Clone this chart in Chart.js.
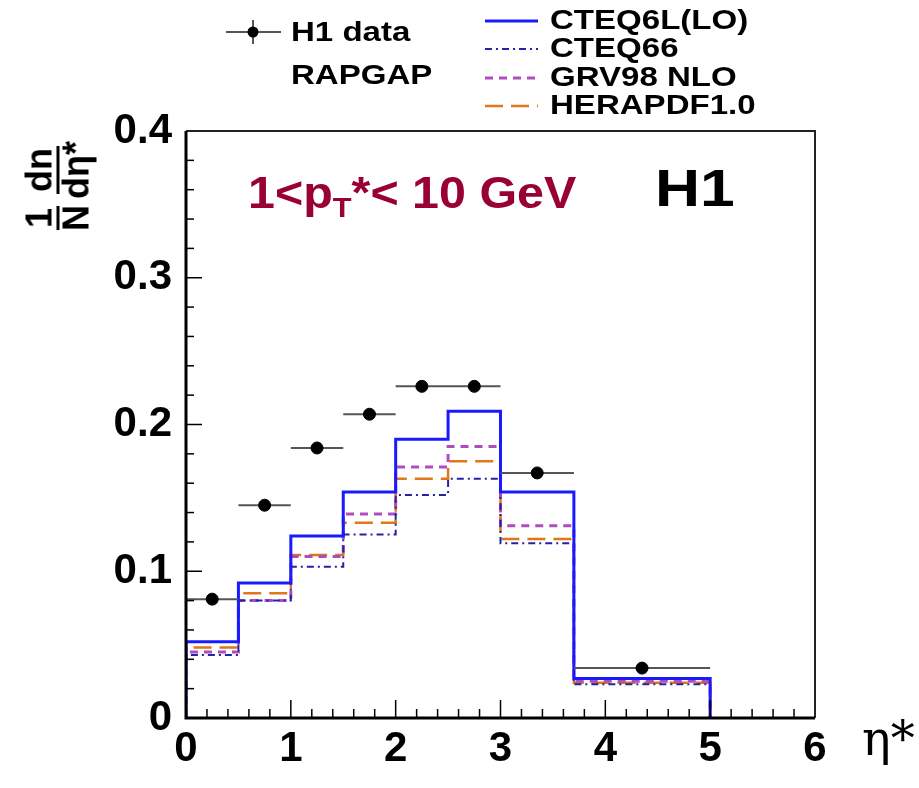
<!DOCTYPE html>
<html>
<head>
<meta charset="utf-8">
<script src="https://cdn.jsdelivr.net/npm/chart.js@4.4.1/dist/chart.umd.min.js"></script>
<style>
  html, body { margin: 0; padding: 0; background: #fff; }
  #wrap { position: relative; width: 919px; height: 788px; overflow: hidden; font-family: "Liberation Sans", Arial, sans-serif; }
  #chart { position: absolute; left: 0; top: 0; }
  .lbl { position: absolute; font-weight: bold; white-space: nowrap; color: #000; transform-origin: left center; }
  .leg { font-size: 28px; line-height: 28px; transform: scaleX(1.18); }
  #ytitle { position: absolute; left: 58px; top: 186px; transform: translate(-50%, -50%) rotate(-90deg);
            display: flex; align-items: center; font-weight: bold; font-size: 36px; }
  .frac { display: inline-flex; flex-direction: column; align-items: center; margin: 0 3px; line-height: 34px; }
  .frac .num { border-bottom: 3px solid #000; padding: 0 2px; }
  svg.sample { position: absolute; overflow: visible; }
</style>
</head>
<body>
<div id="wrap">
  <canvas id="chart" width="919" height="788"></canvas>

  <!-- legend -->
  <svg class="sample" style="left:0;top:0" width="919" height="130">
    <line x1="226" y1="32" x2="281" y2="32" stroke="#555" stroke-width="2"/>
    <line x1="253" y1="20" x2="253" y2="44" stroke="#555" stroke-width="2"/>
    <circle cx="253" cy="32" r="5.5" fill="#000"/>
    <line x1="485" y1="21" x2="538" y2="21" stroke="#1a1aff" stroke-width="3"/>
    <line x1="485" y1="49" x2="538" y2="49" stroke="#2323a8" stroke-width="2" stroke-dasharray="7,4,2,4"/>
    <line x1="485" y1="78" x2="538" y2="78" stroke="#b04cc0" stroke-width="3" stroke-dasharray="8,6"/>
    <line x1="485" y1="106" x2="538" y2="106" stroke="#e07818" stroke-width="2.5" stroke-dasharray="18,8"/>
  </svg>
  <div class="lbl leg" style="left:291px;top:18px">H1 data</div>
  <div class="lbl leg" style="left:291px;top:61px">RAPGAP</div>
  <div class="lbl leg" style="left:550px;top:6px">CTEQ6L(LO)</div>
  <div class="lbl leg" style="left:550px;top:34px">CTEQ66</div>
  <div class="lbl leg" style="left:550px;top:63px">GRV98 NLO</div>
  <div class="lbl leg" style="left:550px;top:91px">HERAPDF1.0</div>

  <!-- annotations -->
  <div class="lbl" style="left:248px;top:168px;font-size:44px;line-height:50px;color:#990033;transform:scaleX(1.1)">1&lt;p<sub style="font-size:28px;vertical-align:-9px">T</sub>*&lt; 10 GeV</div>
  <div class="lbl" style="left:655px;top:160px;font-size:52px;line-height:56px;transform:scaleX(1.2)">H1</div>

  <!-- axis titles -->
  <div id="ytitle">
    <span class="frac"><span class="num">1</span><span>N</span></span>
    <span class="frac"><span class="num">dn</span><span>dη*</span></span>
  </div>
  <div class="lbl" style="left:862px;top:712px;font-size:48px;line-height:52px;font-weight:normal;font-family:'DejaVu Serif',serif">η*</div>
</div>

<script>
// bin edges in eta*
const binEdges = [0, 0.5, 1, 1.5, 2, 2.5, 3, 3.7, 5];

// H1 data points (bin centres and values)
const h1Eta = [0.25, 0.75, 1.25, 1.75, 2.25, 2.75, 3.35, 4.35];
const h1Values = [0.081, 0.145, 0.184, 0.207, 0.226, 0.226, 0.167, 0.034];

// RAPGAP predictions, one value per bin
const cteq6l = [0.052, 0.092, 0.124, 0.154, 0.190, 0.209, 0.154, 0.027];
const cteq66 = [0.043, 0.080, 0.103, 0.125, 0.152, 0.163, 0.119, 0.023];
const grv98 = [0.045, 0.080, 0.110, 0.139, 0.171, 0.185, 0.131, 0.025];
const herapdf = [0.048, 0.085, 0.111, 0.133, 0.163, 0.175, 0.122, 0.024];

// axis ticks
const xTicks = [0, 1, 2, 3, 4, 5, 6];
const yTicks = [0, 0.1, 0.2, 0.3, 0.4];

// turn bin values into a stepped outline from 0 up and back down to 0
function histPoints(values) {
  const pts = [{ x: binEdges[0], y: 0 }];
  values.forEach((v, i) => pts.push({ x: binEdges[i], y: v }));
  const last = binEdges[binEdges.length - 1];
  pts.push({ x: last, y: values[values.length - 1] });
  pts.push({ x: last, y: 0 });
  return pts;
}

// horizontal error bars across each bin, broken with gaps
function errorBars() {
  const pts = [];
  h1Values.forEach((v, i) => {
    pts.push({ x: binEdges[i], y: v });
    pts.push({ x: binEdges[i + 1], y: v });
    pts.push({ x: binEdges[i + 1], y: null });
  });
  return pts;
}

function histDataset(label, values, color, width, dash) {
  return {
    type: "line",
    label: label,
    data: histPoints(values),
    borderColor: color,
    borderWidth: width,
    borderDash: dash,
    stepped: "before",
    pointRadius: 0,
    fill: false,
  };
}

// inward minor/major ticks plus the frame
const frameTicks = {
  id: "frameTicks",
  afterDraw(chart) {
    const { ctx, chartArea: a, scales } = chart;
    ctx.save();
    ctx.strokeStyle = "#000";
    ctx.lineWidth = 1.5;
    for (let i = 1; i < 30; i++) {
      const v = i * 0.2;
      const px = scales.x.getPixelForValue(v);
      const len = i % 5 === 0 ? 18 : 9;
      ctx.beginPath();
      ctx.moveTo(px, a.bottom);
      ctx.lineTo(px, a.bottom - len);
      ctx.stroke();
    }
    for (let i = 1; i < 20; i++) {
      const v = i * 0.02;
      const py = scales.y.getPixelForValue(v);
      const len = i % 5 === 0 ? 16 : 8;
      ctx.beginPath();
      ctx.moveTo(a.left, py);
      ctx.lineTo(a.left + len, py);
      ctx.stroke();
    }
    // top and right of the box
    ctx.lineWidth = 2;
    ctx.strokeStyle = "#222";
    ctx.beginPath();
    ctx.moveTo(a.left, a.top);
    ctx.lineTo(a.right, a.top);
    ctx.lineTo(a.right, a.bottom);
    ctx.stroke();
    // left and bottom axes
    ctx.lineWidth = 3;
    ctx.strokeStyle = "#000";
    ctx.beginPath();
    ctx.moveTo(a.left, a.top);
    ctx.lineTo(a.left, a.bottom);
    ctx.lineTo(a.right, a.bottom);
    ctx.stroke();
    ctx.restore();
  },
};

const tickFont = { family: "'Liberation Sans', Arial, sans-serif", size: 42, weight: "bold" };

new Chart(document.getElementById("chart"), {
  type: "scatter",
  data: {
    datasets: [
      {
        type: "scatter",
        label: "H1 data",
        data: h1Eta.map((x, i) => ({ x: x, y: h1Values[i] })),
        backgroundColor: "#000",
        borderColor: "#000",
        pointRadius: 6,
      },
      {
        type: "line",
        label: "errors",
        data: errorBars(),
        borderColor: "#555",
        borderWidth: 2,
        pointRadius: 0,
        spanGaps: false,
      },
      histDataset("CTEQ6L(LO)", cteq6l, "#1a1aff", 3, []),
      histDataset("CTEQ66", cteq66, "#2323a8", 2, [7, 4, 2, 4]),
      histDataset("GRV98 NLO", grv98, "#b04cc0", 3, [8, 6]),
      histDataset("HERAPDF1.0", herapdf, "#e07818", 2.5, [18, 8]),
    ],
  },
  options: {
    responsive: false,
    animation: false,
    events: [],
    layout: { padding: { top: 131, right: 104, left: 0, bottom: 0 } },
    plugins: { legend: { display: false }, tooltip: { enabled: false } },
    scales: {
      x: {
        type: "linear",
        min: 0,
        max: 6,
        afterFit: (s) => { s.height = 70; },
        afterBuildTicks: (s) => { s.ticks = xTicks.map((v) => ({ value: v })); },
        grid: { display: false, drawTicks: false },
        border: { display: false },
        ticks: { color: "#000", font: tickFont, padding: 6, maxRotation: 0 },
      },
      y: {
        type: "linear",
        min: 0,
        max: 0.4,
        afterFit: (s) => { s.width = 186; },
        afterBuildTicks: (s) => { s.ticks = yTicks.map((v) => ({ value: v })); },
        grid: { display: false, drawTicks: false },
        border: { display: false },
        ticks: { color: "#000", font: tickFont, padding: 14 },
      },
    },
  },
  plugins: [frameTicks],
});
</script>
</body>
</html>
